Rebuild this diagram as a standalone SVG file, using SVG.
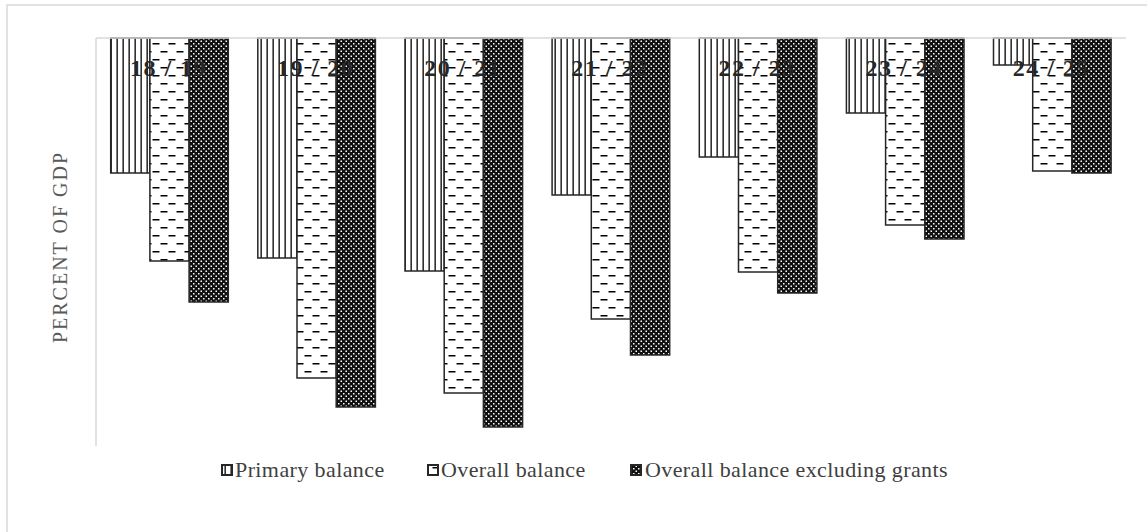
<svg xmlns="http://www.w3.org/2000/svg" width="1147" height="532" viewBox="0 0 1147 532">
<defs>
<pattern id="pVert" patternUnits="userSpaceOnUse" width="6" height="6">
<rect width="6" height="6" fill="#fff"/>
<rect x="2.5" y="0" width="1.3" height="6" fill="#000"/>
</pattern>
<pattern id="pDash" patternUnits="userSpaceOnUse" width="16" height="16">
<rect width="16" height="16" fill="#fff"/>
<rect x="0.5" y="3" width="7" height="1.5" fill="#000"/>
<rect x="8.5" y="11" width="7" height="1.5" fill="#000"/>
</pattern>
<pattern id="pDots" patternUnits="userSpaceOnUse" width="5" height="5">
<rect width="5" height="5" fill="#111"/>
<rect x="0.5" y="0.5" width="1.5" height="1.5" fill="#fff"/>
<rect x="3" y="3" width="1.5" height="1.5" fill="#fff"/>
</pattern>
<style>
.bar{stroke:#262626;stroke-width:1.5}
.prim{fill:url(#pVert)}
.over{fill:url(#pDash)}
.excl{fill:url(#pDots)}
.axis{stroke:#d9d9d9;stroke-width:1.5;fill:none}
.cat{font-family:"Liberation Serif",serif;font-weight:bold;font-size:24px;fill:#262626;text-anchor:middle;letter-spacing:1.5px}
.leg{font-family:"Liberation Serif",serif;font-size:22px;fill:#404040;letter-spacing:0.4px}
.legbox{stroke:#262626;stroke-width:2}
.ytitle{font-family:"Liberation Serif",serif;font-size:20px;fill:#595959;text-anchor:middle;letter-spacing:2px}
</style>
</defs>
<rect x="7" y="5" width="1150" height="540" fill="#fff" stroke="#d9d9d9" stroke-width="1.5"/>

<g id="bars">
<g id="g1819">
<rect class="bar prim" x="110.7" y="38" width="39.2" height="135"/>
<rect class="bar over" x="149.9" y="38" width="39.2" height="223"/>
<rect class="bar excl" x="189.1" y="38" width="39.2" height="264"/>
</g>
<g id="g1920">
<rect class="bar prim" x="257.8" y="38" width="39.2" height="220"/>
<rect class="bar over" x="297" y="38" width="39.2" height="340"/>
<rect class="bar excl" x="336.2" y="38" width="39.2" height="369"/>
</g>
<g id="g2021">
<rect class="bar prim" x="405" y="38" width="39.2" height="233"/>
<rect class="bar over" x="444.2" y="38" width="39.2" height="355"/>
<rect class="bar excl" x="483.4" y="38" width="39.2" height="389"/>
</g>
<g id="g2122">
<rect class="bar prim" x="552.1" y="38" width="39.2" height="157"/>
<rect class="bar over" x="591.3" y="38" width="39.2" height="281"/>
<rect class="bar excl" x="630.5" y="38" width="39.2" height="317"/>
</g>
<g id="g2223">
<rect class="bar prim" x="699.3" y="38" width="39.2" height="119"/>
<rect class="bar over" x="738.5" y="38" width="39.2" height="234"/>
<rect class="bar excl" x="777.7" y="38" width="39.2" height="255"/>
</g>
<g id="g2324">
<rect class="bar prim" x="846.4" y="38" width="39.2" height="75"/>
<rect class="bar over" x="885.6" y="38" width="39.2" height="187"/>
<rect class="bar excl" x="924.8" y="38" width="39.2" height="201"/>
</g>
<g id="g2425">
<rect class="bar prim" x="993.5" y="38" width="39.2" height="27"/>
<rect class="bar over" x="1032.7" y="38" width="39.2" height="133"/>
<rect class="bar excl" x="1071.9" y="38" width="39.2" height="135"/>
</g>
</g>

<g id="axes">
<line class="axis" x1="96" y1="38" x2="1126" y2="38"/>
<line class="axis" x1="96" y1="38" x2="96" y2="446"/>
</g>

<g id="categories">
<text class="cat" x="168.5" y="76">18 / 19</text>
<text class="cat" x="315.6" y="76">19 / 20</text>
<text class="cat" x="462.8" y="76">20 / 21</text>
<text class="cat" x="609.9" y="76">21 / 22</text>
<text class="cat" x="757.1" y="76">22 / 23</text>
<text class="cat" x="904.2" y="76">23 / 24</text>
<text class="cat" x="1051.3" y="76">24 / 25</text>
</g>

<g id="ytitle">
<text class="ytitle" transform="translate(67,247) rotate(-90)">PERCENT OF GDP</text>
</g>

<g id="legend">
<g id="leg-primary">
<rect class="legbox prim" x="222" y="465" width="10" height="10"/>
<text class="leg" x="235" y="477">Primary balance</text>
</g>
<g id="leg-overall">
<rect class="legbox over" x="428" y="465" width="10" height="10"/>
<text class="leg" x="441" y="477">Overall balance</text>
</g>
<g id="leg-excl">
<rect class="legbox excl" x="631" y="465" width="10" height="10"/>
<text class="leg" x="645" y="477">Overall balance excluding grants</text>
</g>
</g>
</svg>
